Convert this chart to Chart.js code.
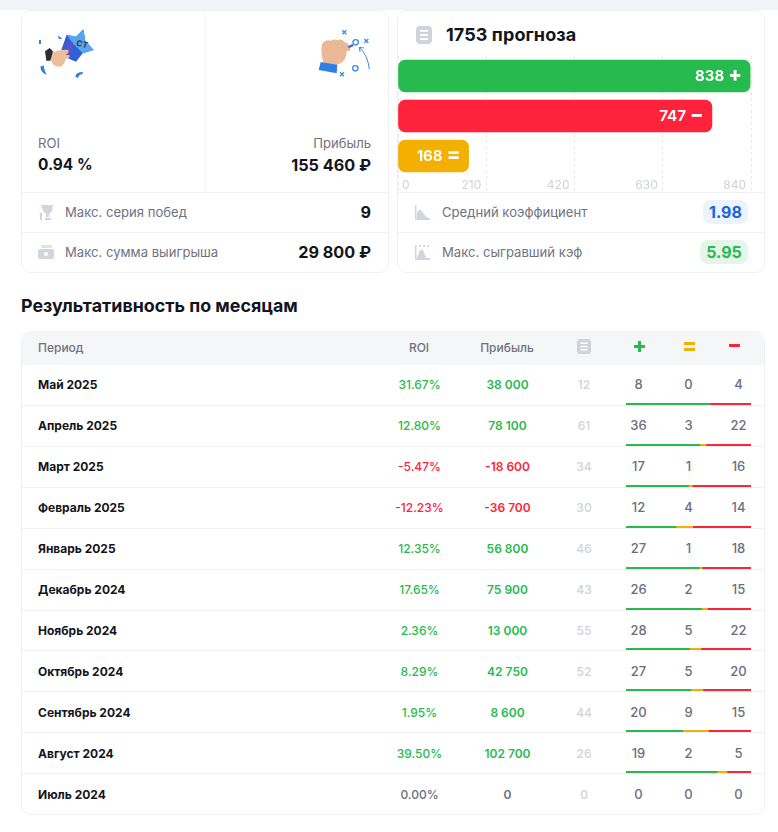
<!DOCTYPE html>
<html lang="ru"><head><meta charset="utf-8">
<script src="https://cdn.jsdelivr.net/npm/chart.js@4"></script>
<style>
html,body{margin:0;padding:0;background:#fff;overflow:hidden}
body{width:778px;height:832px;position:relative;font-family:Inter,"Noto Sans",sans-serif;color:#14141c}
.a{position:absolute;white-space:nowrap;line-height:1}
.strip{left:0;top:0;width:778px;height:10px;background:#f1f3f7}
.card{position:absolute;box-sizing:border-box;border:1px solid #eef0f4;border-radius:10px;background:#fff}
.hl{position:absolute;height:1px;background:#eff1f5}
.lab{font-size:13.1px;font-weight:400;color:#70727f;transform:translateY(calc(-50% + 1px))}
.big{font-size:16.2px;font-weight:700;transform:translateY(-50%)}
.c{transform:translate(-50%,-50%)}
.cnt{font-size:13px;font-weight:500;color:#6b6e7e}
canvas{display:block}
</style></head><body>
<div class="a strip"></div>
<div class="card" style="left:21px;top:10px;width:368px;height:263px"></div>
<div class="card" style="left:397px;top:10px;width:368px;height:263px"></div>
<div class="a" style="left:204px;top:11px;width:1px;height:181px;background:#f6f7f9"></div>
<div class="hl" style="left:22px;top:192px;width:366px"></div>
<div class="hl" style="left:22px;top:232px;width:366px"></div>
<div class="hl" style="left:398px;top:192px;width:366px"></div>
<div class="hl" style="left:398px;top:232px;width:366px"></div>

<svg class="a" style="left:21px;top:20px" width="90" height="70" viewBox="0 0 270 210">
<path d="M137 44l28 6 22-22 6 34 25 28-33 10-20 25-28-12-32 22z" fill="#2f5fd6"/>
<path d="M137 44l28 6 22-22 6 34 25 28-33 10-30-30z" fill="#58a6f0"/>
<path d="M134 72l22-6-8 40-16 10z" fill="#5a52c9"/>
<text x="166" y="80" font-size="25" font-weight="800" fill="#3a4258" transform="rotate(14 180 72)">СТ</text>
<path d="M86 102q30-16 56-12 4 8-8 14l12 2q2 10-12 10-2 16-16 24-22 2-28-20z" fill="#eebd99"/>
<path d="M72 94l14-10 10 10-8 28-12 0z" fill="#2d2d36"/>
<path d="M54 60h6v12h-6zM110 46l14 10-10 2zM58 140q2 20 20 24-8-8-10-28zM163 170q2-14 22-14l0 6q-12 2-14 12z" fill="#2f80e4"/></svg>

<svg class="a" style="left:300px;top:20px" width="90" height="70" viewBox="0 0 270 210">
<path d="M66 72q10-14 26-10 10-6 20-2 12-4 22 6 14 6 18 16l-2 10-10 2-2 14q-6 24-36 28l-28 0q-14-30-8-64z" fill="#eab897"/>
<path d="M62 126l50 8-2 26-54-10z" fill="#2f80e4"/>
<path d="M143 80l14-8 4 6-14 6z" fill="#2f5fd6"/>
<circle cx="167" cy="67" r="8" fill="none" stroke="#3d8be6" stroke-width="4"/>
<circle cx="166" cy="145" r="8" fill="none" stroke="#3d8be6" stroke-width="4"/>
<path d="M127 31l12 12M139 31l-12 12M193 57l12 12M205 57l-12 12M120 157l12 12M132 157l-12 12" fill="none" stroke="#3d8be6" stroke-width="4"/>
<path d="M178 82q26 24 30 66M178 82l2 14M178 82l14 2" fill="none" stroke="#3d8be6" stroke-width="3"/></svg>

<div class="a lab" style="left:38px;top:143px">ROI</div>
<div class="a big" style="left:38px;top:165px;font-size:15.4px">0.94 %</div>
<div class="a lab" style="right:407px;top:143px">Прибыль</div>
<div class="a big" style="right:407px;top:165px">155 460 ₽</div>

<svg class="a" style="left:38px;top:204px" width="17" height="17" viewBox="0 0 17 17"><path d="M3 1h12l-1 6-3 3v3H8v-3L5 7z" fill="#d3d5de"/><path d="M1 11l2-3 2 3H4v5H2v-5zM7 14h6v2H7z" fill="#d3d5de"/></svg>
<div class="a lab" style="left:65px;top:212px">Макс. серия побед</div>
<div class="a big" style="right:407px;top:212px">9</div>
<svg class="a" style="left:38px;top:244px" width="17" height="16" viewBox="0 0 17 16"><rect x="3" y="1" width="11" height="3" rx="1" fill="#e0e2e9"/><rect y="5" width="16" height="10" rx="2" fill="#d3d5de"/><circle cx="8" cy="10" r="2" fill="#fff"/></svg>
<div class="a lab" style="left:65px;top:252px">Макс. сумма выигрыша</div>
<div class="a big" style="right:407px;top:252px">29 800 ₽</div>

<svg class="a" style="left:416px;top:26px" width="16" height="18" viewBox="0 0 16 18"><rect width="16" height="18" rx="4" fill="#d0d2dc"/><path d="M4 4h8v2H4zM4 8h8v2H4zM4 12h8v2H4z" fill="#fff"/></svg>
<div class="a" style="left:446px;top:35px;font-size:18px;letter-spacing:.08px;font-weight:700;transform:translateY(-50%)">1753 прогноза</div>

<div class="a" style="left:398px;top:56px;width:367px;height:136px"><canvas id="mainChart"></canvas></div>

<svg class="a" style="left:414px;top:205px" width="17" height="15" viewBox="0 0 17 15"><path d="M1 0h1.500v13H16v2H1z" fill="#d3d5de"/><path d="M3 13V8q2-5 4-3t3 4 4 4z" fill="#d3d5de"/></svg>
<div class="a lab" style="left:442px;top:212px">Средний коэффициент</div>
<div class="a" style="left:703px;top:200px;width:45px;height:24px;border-radius:8px;background:#ebf3fd;color:#1a63d8;font-size:16px;font-weight:700;line-height:24px;text-align:center">1.98</div>
<svg class="a" style="left:414px;top:245px" width="17" height="15" viewBox="0 0 17 15"><path d="M1 0h1.500v13H16v2H1z" fill="#d3d5de"/><path d="M3 13l3-8h3l3 8zM5 0h2v2H5zM9 0h2v2H9zM13 0h2v2h-2z" fill="#d3d5de"/></svg>
<div class="a lab" style="left:442px;top:252px">Макс. сыгравший кэф</div>
<div class="a" style="left:700px;top:240px;width:48px;height:24px;border-radius:8px;background:#e6f5ea;color:#27ba4f;font-size:16px;font-weight:700;line-height:24px;text-align:center">5.95</div>

<div class="a" style="left:21px;top:306px;font-size:17.85px;font-weight:700;transform:translateY(-50%)">Результативность по месяцам</div>

<div class="card" style="left:21px;top:331px;width:744px;height:484px;overflow:hidden"><div style="height:33px;background:#f5f6f8"></div></div>
<div class="a lab" style="left:38px;top:348px;font-size:12px;font-weight:500;transform:translateY(-50%)">Период</div>
<div class="a lab c" style="left:419px;top:348px;font-size:12px;font-weight:500;transform:translate(-50%,-50%)">ROI</div>
<div class="a lab c" style="left:507px;top:348px;font-size:12px;font-weight:500;transform:translate(-50%,-50%)">Прибыль</div>
<svg class="a" style="left:577px;top:339px" width="14" height="15" viewBox="0 0 14 15"><rect width="14" height="15" rx="3.500" fill="#d0d2dc"/><path d="M3.500 3.500h7v1.500h-7zM3.500 6.700h7v1.500h-7zM3.500 10h7v1.500h-7z" fill="#fff"/></svg>
<svg class="a" style="left:634px;top:341px" width="11" height="11" viewBox="0 0 11 11"><path d="M4 0h3v4h4v3H7v4H4V7H0V4h4z" fill="#27ba4f"/></svg>
<svg class="a" style="left:684px;top:342px" width="11" height="9" viewBox="0 0 11 9"><path d="M0 0h11v3H0zM0 6h11v3H0z" fill="#f4b000"/></svg>
<svg class="a" style="left:729px;top:344px" width="11" height="4" viewBox="0 0 11 4"><path d="M0 0h11v3H0z" fill="#ff223b"/></svg>
<div id="rows"></div>

<script>
const months = ["Май 2025","Апрель 2025","Март 2025","Февраль 2025","Январь 2025","Декабрь 2024","Ноябрь 2024","Октябрь 2024","Сентябрь 2024","Август 2024","Июль 2024"];
const roi = [31.67,12.80,-5.47,-12.23,12.35,17.65,2.36,8.29,1.95,39.50,0.00];
const profit = [38000,78100,-18600,-36700,56800,75900,13000,42750,8600,102700,0];
const totals = [12,61,34,30,46,43,55,52,44,26,0];
const wins = [8,36,17,12,27,26,28,27,20,19,0];
const draws = [0,3,1,4,1,2,5,5,9,2,0];
const losses = [4,22,16,14,18,15,22,20,15,5,0];

const outcomeLabels = ["Плюс","Минус","Возврат"];
const outcomeValues = [838,747,168];
const outcomeSigns = ["+","−","="];
const outcomeColors = ["#27ba4f","#ff223b","#f4b000"];
const axisTicks = [0,210,420,630,840];

const GREEN="#27ba4f",RED="#ff223b",AMBER="#f4b000",GREY="#6b6e7e";
const fmt=v=>String(v).replace(/\B(?=(\d{3})+(?!\d))/g," ");
const font='Inter, "Noto Sans", sans-serif';

const barLabels={id:"barLabels",afterDatasetsDraw(c){
  const ctx=c.ctx,pts=c.getDatasetMeta(0).data;
  ctx.save();ctx.fillStyle="#fff";ctx.textBaseline="middle";
  pts.forEach((p,i)=>{
    const y=p.y;
    ctx.font="700 15px "+font;ctx.textAlign="right";
    ctx.fillText(String(outcomeValues[i]),p.x-26,y);
    ctx.font="800 20px "+font;ctx.textAlign="center";
    ctx.fillText(outcomeSigns[i],p.x-15,y-1);
  });
  ctx.restore();
}};
const firstTick={id:"firstTick",beforeDraw(c){
  const it=c.scales.x.getLabelItems()[0];
  if(it){it.options.textAlign="left";it.options.translation[0]=c.scales.x.left+4;}
}};
new Chart(document.getElementById("mainChart"),{
  type:"bar",
  data:{labels:outcomeLabels,datasets:[{data:outcomeValues,backgroundColor:outcomeColors,borderRadius:7,borderSkipped:false,barThickness:32}]},
  plugins:[firstTick,barLabels],
  options:{
    indexAxis:"y",responsive:true,maintainAspectRatio:false,animation:false,
    layout:{padding:{left:0,right:14,top:0,bottom:0}},
    plugins:{legend:{display:false},tooltip:{enabled:false}},
    scales:{
      y:{display:false},
      x:{min:0,max:840,afterBuildTicks(s){s.ticks=axisTicks.map(v=>({value:v}));},
        afterFit(s){s.height=16;s.paddingLeft=0;s.paddingRight=0;},
        border:{display:false,dash:[3,3]},
        grid:{color:"#e6e8ed",lineWidth:1,tickLength:16,tickColor:"#e6e8ed",tickBorderDash:[3,3]},
        ticks:{align:"end",labelOffset:-5,padding:-14,maxRotation:0,autoSkip:false,color:"#cfd1db",font:{family:font,size:12}}
      }
    }
  }
});

const root=document.getElementById("rows");
const H=40.9;
months.forEach((m,i)=>{
  const cy=Math.round(384.4+40.95*i),ty=cy+1,sep=Math.round(364.1+H*(i+1));
  const col=v=>v>0?GREEN:v<0?RED:GREY;
  const add=(txt,style,cls)=>{const d=document.createElement("div");d.className="a "+(cls||"");d.style.cssText=style;d.textContent=txt;root.appendChild(d);};
  add(m,`left:38px;top:${ty}px;font-size:12px;font-weight:700;transform:translateY(-50%)`);
  add(roi[i].toFixed(2)+"%",`left:419.5px;top:${ty}px;color:${col(roi[i])};font-size:12px;font-weight:500`,"c");
  add(fmt(profit[i]),`left:507.5px;top:${ty}px;color:${col(profit[i])};font-size:12px;font-weight:600`,"c");
  add(String(totals[i]),`left:584px;top:${ty}px;color:#d0d2dc;font-size:12px;font-weight:500`,"c");
  add(String(wins[i]),`left:638.5px;top:${cy}px`,"c cnt");
  add(String(draws[i]),`left:688.5px;top:${cy}px`,"c cnt");
  add(String(losses[i]),`left:738.5px;top:${cy}px`,"c cnt");
  if(i<months.length-1){const l=document.createElement("div");l.className="hl";l.style.cssText=`left:22px;width:742px;top:${sep}px`;root.appendChild(l);}
  if(totals[i]>0){
    const w=document.createElement("div");w.className="a";w.style.cssText=`left:626px;top:${sep-2}px;width:125px;height:2px`;
    const cv=document.createElement("canvas");w.appendChild(cv);root.appendChild(w);
    new Chart(cv,{type:"bar",data:{labels:[m],datasets:[
      {data:[wins[i]],backgroundColor:GREEN},
      {data:[draws[i]],backgroundColor:AMBER},
      {data:[losses[i]],backgroundColor:RED}]},
      options:{indexAxis:"y",responsive:true,maintainAspectRatio:false,animation:false,
        layout:{padding:0},
        datasets:{bar:{barPercentage:1,categoryPercentage:1}},
        plugins:{legend:{display:false},tooltip:{enabled:false}},
        scales:{x:{display:false,stacked:true,min:0,max:totals[i]},y:{display:false,stacked:true}}}});
  }
});
</script>
</body></html>
